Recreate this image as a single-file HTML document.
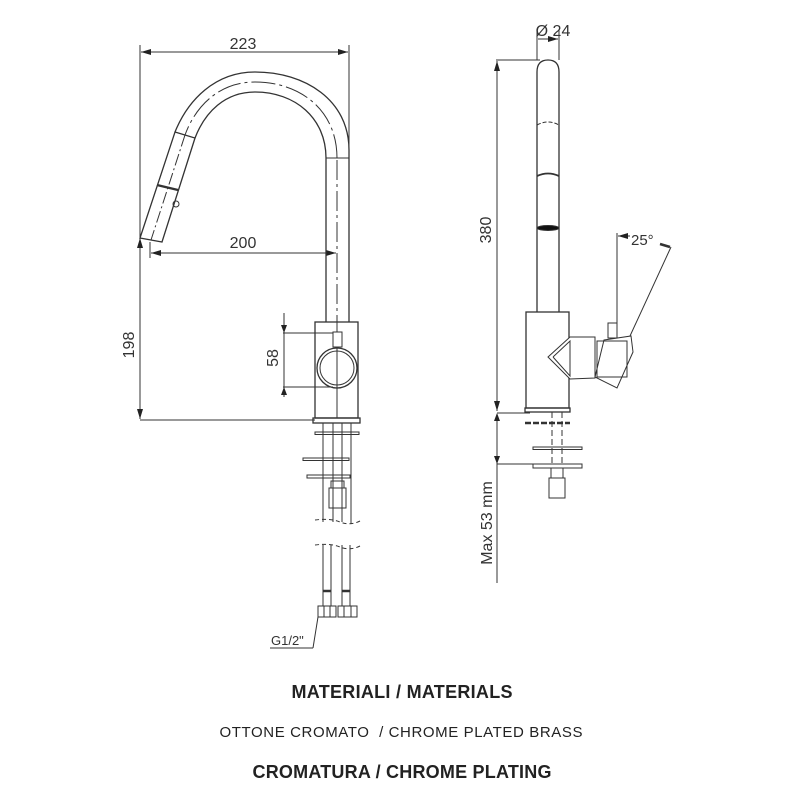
<!DOCTYPE html>
<html><head><meta charset="utf-8"><style>
html,body{margin:0;padding:0;background:#fff;}
svg{display:block;}
text{font-family:"Liberation Sans",Arial,sans-serif;fill:#222;}
.d{fill:#333;}
</style></head><body>
<svg width="800" height="800" viewBox="0 0 800 800" xmlns="http://www.w3.org/2000/svg">
<defs>
<marker id="a" viewBox="0 0 10 6" refX="10" refY="3" markerWidth="10" markerHeight="6" orient="auto-start-reverse" markerUnits="userSpaceOnUse"><path d="M0,0 L10,3 L0,6z" fill="#222"/></marker>
</defs>
<g stroke="#333" stroke-width="1" fill="none">
<line x1="140" y1="45" x2="140" y2="237"/>
<line x1="349" y1="45" x2="349" y2="150"/>
<line x1="141" y1="52" x2="348" y2="52" marker-start="url(#a)" marker-end="url(#a)"/>
<path d="M349,157 L349,150 C349,100 305,72 255,72 C215,72 188,100 175,132" stroke-width="1.3"/>
<path d="M326,158 C326,118 295,92 255,92 C225,92 205,112 195,138" stroke-width="1.3"/>
<path d="M337,158 C337,110 300,82 255,82 C220,82 196,105 185,135" stroke-dasharray="24,4,3,4"/>
<polygon points="175,132 195,138 162,242 140,238" stroke-width="1.3"/>
<line x1="157" y1="185" x2="178" y2="190" stroke-width="2.2"/>
<line x1="185" y1="135" x2="151" y2="240" stroke-dasharray="12,3,2,3"/>
<circle cx="176" cy="204" r="3"/>
<line x1="150" y1="242" x2="150" y2="258"/>
<line x1="151" y1="253" x2="336" y2="253" marker-start="url(#a)" marker-end="url(#a)"/>
<line x1="326" y1="158" x2="326" y2="322" stroke-width="1.3"/>
<line x1="349" y1="157" x2="349" y2="322" stroke-width="1.3"/>
<line x1="326" y1="158" x2="349" y2="158"/>
<line x1="337" y1="160" x2="337" y2="322" stroke-dasharray="20,4,3,4"/>
<rect x="315" y="322" width="43" height="96" stroke-width="1.3"/>
<line x1="337" y1="322" x2="337" y2="418"/>
<circle cx="337" cy="368" r="20" stroke-width="1.3"/>
<circle cx="337" cy="368" r="17"/>
<rect x="333" y="332" width="9" height="15" fill="#fff"/>
<rect x="313" y="418" width="47" height="5" stroke-width="1.3"/>
<line x1="283" y1="333" x2="333" y2="333"/>
<line x1="283" y1="387" x2="333" y2="387"/>
<line x1="284" y1="313" x2="284" y2="397" />
<path d="M281,325 L284,333 L287,325z M281,395 L284,387 L287,395z" fill="#222" stroke="none"/>
<line x1="140" y1="420" x2="315" y2="420"/>
<line x1="140" y1="238" x2="140" y2="419" marker-start="url(#a)" marker-end="url(#a)"/>
<rect x="315" y="432" width="44" height="2.5"/>
<line x1="323" y1="423" x2="323" y2="522"/>
<line x1="333" y1="423" x2="333" y2="522"/>
<line x1="342" y1="423" x2="342" y2="522"/>
<line x1="351" y1="423" x2="351" y2="524"/>
<rect x="303" y="458" width="46" height="2.5"/>
<rect x="307" y="475" width="43" height="3"/>
<rect x="331" y="481" width="13" height="7"/>
<rect x="329" y="488" width="17" height="20"/>
<path d="M315,520 Q330,518 340,522 T360,521" stroke-dasharray="4,3"/>
<path d="M315,545 Q330,543 340,547 T360,546" stroke-dasharray="4,3"/>
<line x1="323" y1="545" x2="323" y2="606"/>
<line x1="331" y1="545" x2="331" y2="606"/>
<line x1="342" y1="545" x2="342" y2="606"/>
<line x1="350" y1="545" x2="350" y2="606"/>
<line x1="323" y1="591" x2="331" y2="591" stroke-width="2.5"/>
<line x1="342" y1="591" x2="350" y2="591" stroke-width="2.5"/>
<rect x="318" y="606" width="18" height="11"/>
<line x1="324" y1="606" x2="324" y2="617"/><line x1="330" y1="606" x2="330" y2="617"/>
<rect x="338" y="606" width="19" height="11"/>
<line x1="344" y1="606" x2="344" y2="617"/><line x1="351" y1="606" x2="351" y2="617"/>
<line x1="318" y1="617" x2="313" y2="648"/>
<line x1="270" y1="648" x2="313" y2="648"/>
<line x1="537" y1="30" x2="537" y2="60"/>
<line x1="559" y1="30" x2="559" y2="60"/>
<line x1="538" y1="39" x2="558" y2="39" marker-end="url(#a)"/>
<path d="M537,312 L537,72 Q537,60 548,60 Q559,60 559,72 L559,312" stroke-width="1.3"/>
<path d="M537,125 Q548,119 559,125" stroke-dasharray="4,2"/>
<path d="M537,176 Q548,171 559,176" stroke-width="1.8"/>
<ellipse cx="548" cy="228" rx="11" ry="2.5" fill="#111"/>
<line x1="496" y1="60" x2="540" y2="60"/>
<line x1="497" y1="61" x2="497" y2="411" marker-start="url(#a)" marker-end="url(#a)"/>
<rect x="526" y="312" width="43" height="96" stroke-width="1.3"/>
<rect x="525" y="408" width="45" height="4" stroke-width="1.3"/>
<polygon points="548,357 570,337 595,337 595,378 570,379" fill="#fff"/>
<polyline points="553,357 570,341 570,376 553,357"/>
<rect x="597" y="341" width="30" height="36" fill="#fff"/>
<polygon points="604,340 631,336 633,352 617,388 595,377" />
<rect x="608" y="323" width="9" height="15" fill="#fff"/>
<line x1="617" y1="233" x2="617" y2="323"/>
<line x1="618" y1="236" x2="630" y2="236" marker-start="url(#a)"/>
<line x1="630" y1="336" x2="671" y2="247"/>
<line x1="660" y1="244" x2="670" y2="247" stroke-width="2.5"/>
<line x1="497" y1="413" x2="530" y2="413"/>
<line x1="497" y1="464" x2="533" y2="464"/>
<line x1="497" y1="414" x2="497" y2="583"/>
<path d="M494,421 L497,413 L500,421z M494,456 L497,464 L500,456z" fill="#222" stroke="none"/>
<line x1="525" y1="423" x2="570" y2="423" stroke-width="2.5" stroke-dasharray="6,2"/>
<line x1="552" y1="412" x2="552" y2="465" stroke-dasharray="6,3"/>
<line x1="562" y1="412" x2="562" y2="465" stroke-dasharray="6,3"/>
<rect x="533" y="447" width="49" height="2.5"/>
<rect x="533" y="464" width="49" height="4"/>
<rect x="551" y="468" width="12" height="10"/>
<rect x="549" y="478" width="16" height="20"/>
</g>
<text class="d" x="243" y="49" font-size="16" text-anchor="middle">223</text>
<text class="d" x="243" y="248" font-size="16" text-anchor="middle">200</text>
<text class="d" transform="translate(134,345) rotate(-90)" font-size="16" text-anchor="middle">198</text>
<text class="d" transform="translate(278,358) rotate(-90)" font-size="16" text-anchor="middle">58</text>
<text class="d" x="271" y="645" font-size="13">G1/2"</text>
<text class="d" x="553" y="36" font-size="16" text-anchor="middle">Ø 24</text>
<text class="d" transform="translate(491,230) rotate(-90)" font-size="16" text-anchor="middle">380</text>
<text class="d" x="631" y="245" font-size="15">25°</text>
<text class="d" transform="translate(492,523) rotate(-90)" font-size="16" text-anchor="middle">Max 53 mm</text>
<text x="402" y="698" font-size="18" font-weight="bold" text-anchor="middle" textLength="221">MATERIALI / MATERIALS</text>
<text x="401" y="737" font-size="15" text-anchor="middle" textLength="363" xml:space="preserve">OTTONE CROMATO  / CHROME PLATED BRASS</text>
<text x="402" y="778" font-size="18" font-weight="bold" text-anchor="middle" textLength="299">CROMATURA / CHROME PLATING</text>
</svg>
</body></html>
